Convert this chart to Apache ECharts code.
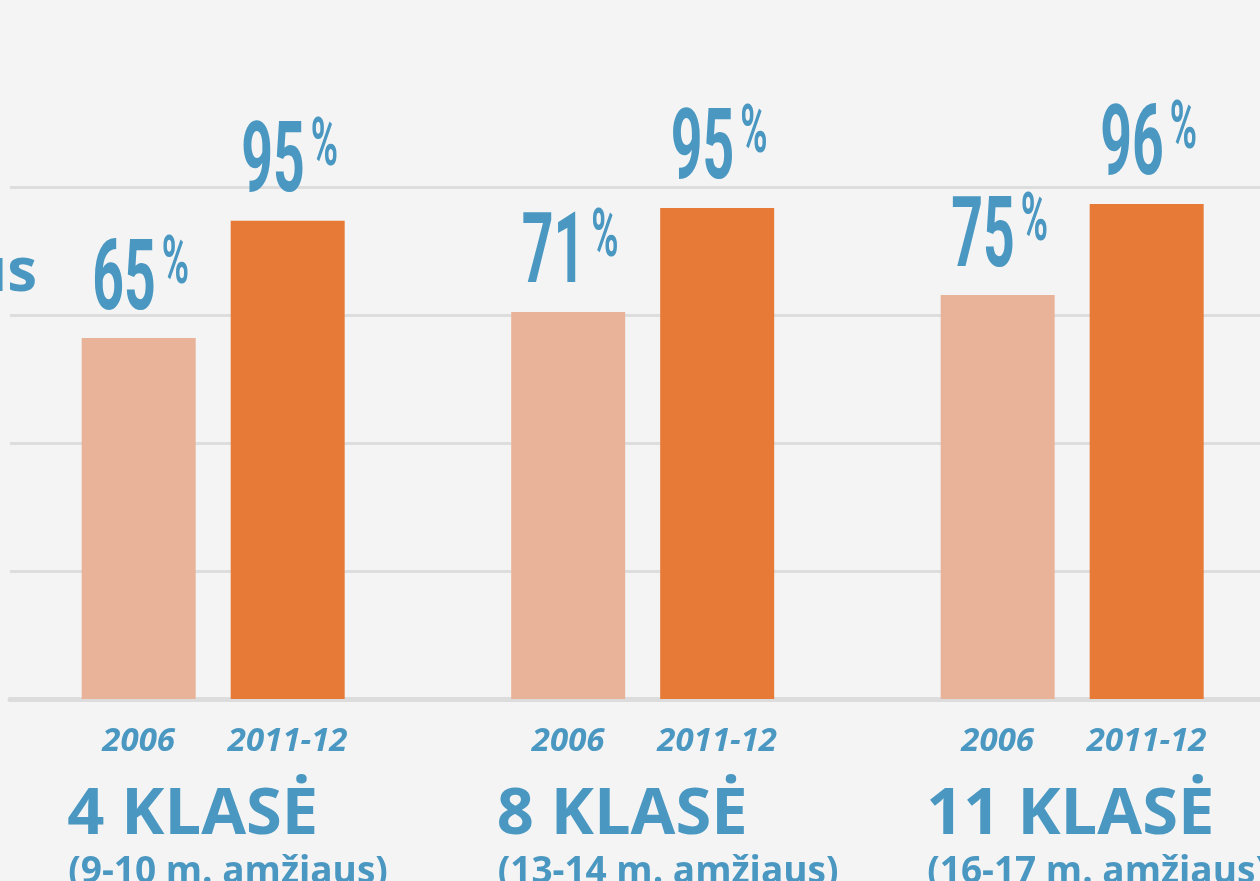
<!DOCTYPE html>
<html lang="lt">
    <head>
        <meta charset="utf-8">
        <title>Klasės</title>
        <script src="https://cdn.jsdelivr.net/npm/echarts@6/dist/echarts.min.js"></script>
        <style>
            html, body { margin: 0; padding: 0; background: #f4f4f4; }
            #chart { width: 1260px; height: 881px; }
        </style>
    </head>
    <body>
        <div id="chart"></div>
        <script>
            // duomenys
            var groups = ['4 KLASĖ', '8 KLASĖ', '11 KLASĖ'];
            var ages = ['(9-10 m. amžiaus)', '(13-14 m. amžiaus)', '(16-17 m. amžiaus)'];
            var years = ['2006', '2011-12'];
            // stulpelių aukščiai, nuskaityti nuo tinklelio (0-100)
            var bar2006 = [70.5, 75.6, 78.9];
            var bar2011 = [93.4, 95.9, 96.7];
            // užrašai virš stulpelių
            var share2006 = ['65', '71', '75'];
            var share2011 = ['95', '95', '96'];

            var blue = '#4a98c1';
            var myChart = echarts.init(document.getElementById('chart'));

            function barData(arr) {
                return arr.map(function (v, i) { return [i, v]; });
            }

            var labelData = [];
            for (var g = 0; g < groups.length; g++) {
                labelData.push([g, 0, bar2006[g]]);
                labelData.push([g, 1, bar2011[g]]);
            }

            function yearLabel(text) {
                return {
                    show: true,
                    position: 'bottom',
                    distance: 26,
                    formatter: text,
                    color: blue,
                    fontFamily: 'Open Sans',
                    fontWeight: 'bold',
                    fontStyle: 'italic',
                    fontSize: 33
                };
            }

            var option = {
                backgroundColor: '#f4f4f4',
                animation: false,
                grid: { left: 10, right: 0, top: 187, bottom: 182 },
                xAxis: {
                    type: 'value',
                    min: -0.4731,
                    max: 2.4373,
                    axisLine: { show: true, lineStyle: { color: '#dcdcdc', width: 5 } },
                    axisTick: { show: false },
                    axisLabel: { show: false },
                    splitLine: { show: false }
                },
                yAxis: {
                    type: 'value',
                    min: 0,
                    max: 100,
                    interval: 25,
                    axisLine: { show: false },
                    axisTick: { show: false },
                    axisLabel: { show: false },
                    splitLine: { lineStyle: { color: '#dddddd', width: 3 } }
                },
                graphic: [{
                    type: 'text',
                    x: 37,
                    y: 274,
                    style: {
                        text: 'amžius',
                        font: 'bold 60px "Open Sans"',
                        fill: blue,
                        align: 'right',
                        verticalAlign: 'middle'
                    }
                }],
                series: [
                    {
                        name: years[0],
                        type: 'bar',
                        barWidth: 114,
                        barGap: '30.7%',
                        itemStyle: { color: '#e9b399' },
                        label: yearLabel(years[0]),
                        data: barData(bar2006)
                    },
                    {
                        name: years[1],
                        type: 'bar',
                        barWidth: 114,
                        barGap: '30.7%',
                        itemStyle: { color: '#e77a37' },
                        label: yearLabel(years[1]),
                        data: barData(bar2011)
                    },
                    {
                        // procentai virš stulpelių
                        type: 'custom',
                        encode: { x: 0, y: 2 },
                        data: labelData,
                        z: 5,
                        renderItem: function (params, api) {
                            var g = api.value(0);
                            var s = api.value(1);
                            var p = api.coord([g, api.value(2)]);
                            var cx = p[0] + (s ? 74.5 : -74.5);
                            var text = s ? share2011[g] : share2006[g];
                            var bottom = p[1] - 5;
                            var digitTop = bottom - 20 - 72;
                            return {
                                type: 'group',
                                children: [
                                    {
                                        type: 'text',
                                        x: cx + 17,
                                        y: bottom,
                                        scaleX: 0.565,
                                        style: {
                                            text: text,
                                            font: 'bold 98px Roboto',
                                            fill: blue,
                                            align: 'right',
                                            verticalAlign: 'bottom'
                                        }
                                    },
                                    {
                                        type: 'text',
                                        x: cx + 23,
                                        y: digitTop - 8,
                                        scaleX: 0.56,
                                        style: {
                                            text: '%',
                                            font: 'bold 66px Roboto',
                                            fill: blue,
                                            align: 'left',
                                            verticalAlign: 'top'
                                        }
                                    }
                                ]
                            };
                        }
                    },
                    {
                        // klasių pavadinimai
                        type: 'custom',
                        encode: { x: 0, y: 1 },
                        data: groups.map(function (n, i) { return [i, 0]; }),
                        renderItem: function (params, api) {
                            var i = api.value(0);
                            var p = api.coord([i, 0]);
                            return {
                                type: 'group',
                                children: [
                                    {
                                        type: 'text',
                                        x: p[0] - 146,
                                        y: p[1] + 116,
                                        style: {
                                            text: groups[i],
                                            font: 'bold 65px "Open Sans"',
                                            fill: blue,
                                            align: 'left',
                                            verticalAlign: 'middle'
                                        }
                                    },
                                    {
                                        type: 'text',
                                        x: p[0] - 145,
                                        y: p[1] + 173,
                                        style: {
                                            text: ages[i],
                                            font: 'bold 37px "Open Sans"',
                                            fill: blue,
                                            align: 'left',
                                            verticalAlign: 'middle'
                                        }
                                    }
                                ]
                            };
                        }
                    }
                ]
            };
            myChart.setOption(option);
        </script>
    </body>
</html>
